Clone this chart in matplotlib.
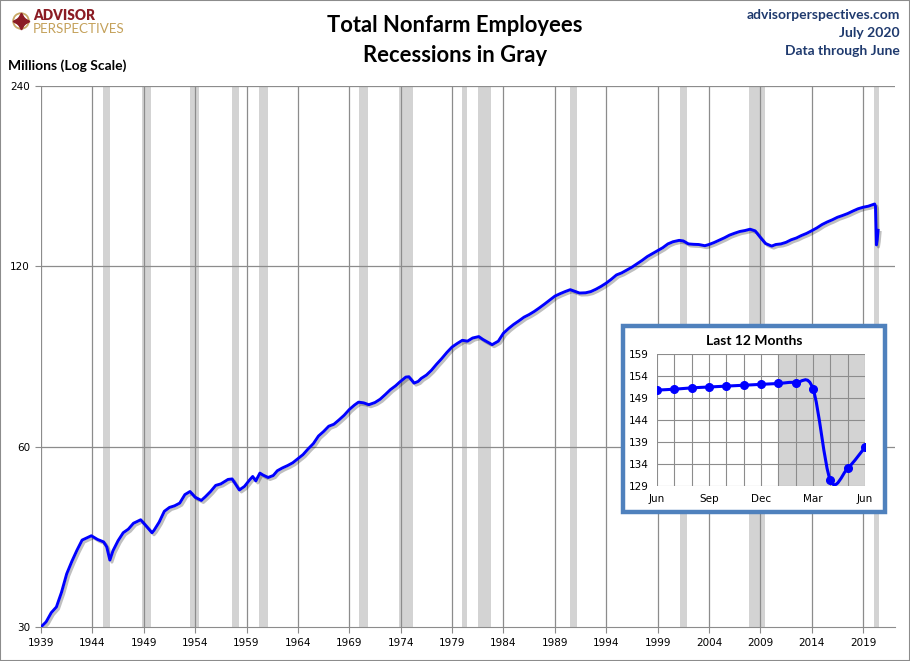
import matplotlib
matplotlib.use("Agg")
import matplotlib.pyplot as plt
import matplotlib.patheffects as pe
from matplotlib.patches import Rectangle, Circle
from matplotlib.path import Path
from matplotlib.patches import PathPatch

# main series: decimal year, millions of employees
years = [
    1939.0, 1939.5, 1940.0, 1940.5, 1941.0, 1941.5, 1942.0, 1942.5, 1943.0, 1943.9,
    1944.5, 1945.1, 1945.4, 1945.7, 1946.0, 1946.5, 1947.0, 1947.5, 1948.0, 1948.7,
    1949.0, 1949.8, 1950.0, 1950.5, 1951.0, 1951.5, 1952.0, 1952.5, 1953.0, 1953.5,
    1954.0, 1954.6, 1955.0, 1955.5, 1956.0, 1956.5, 1957.2, 1957.6, 1958.3, 1958.8,
    1959.3, 1959.6, 1959.9, 1960.3, 1960.6, 1961.1, 1961.6, 1962.0, 1962.5, 1963.0,
    1963.5, 1964.0, 1964.5, 1965.0, 1965.5, 1966.0, 1966.5, 1967.0, 1967.5, 1968.0,
    1968.5, 1969.0, 1969.5, 1969.9, 1970.4, 1970.9, 1971.5, 1972.0, 1972.5, 1973.0,
    1973.5, 1973.9, 1974.5, 1974.8, 1975.3, 1975.7, 1976.0, 1976.5, 1977.0, 1977.5,
    1978.0, 1978.5, 1979.0, 1979.5, 1980.0, 1980.5, 1981.0, 1981.6, 1982.0, 1982.5,
    1982.9, 1983.5, 1984.0, 1984.5, 1985.0, 1985.5, 1986.0, 1986.5, 1987.0, 1987.5,
    1988.0, 1988.5, 1989.0, 1989.5, 1990.0, 1990.5, 1991.0, 1991.4, 1992.0, 1992.5,
    1993.0, 1993.5, 1994.0, 1994.5, 1995.0, 1995.5, 1996.0, 1996.5, 1997.0, 1997.5,
    1998.0, 1998.5, 1999.0, 1999.5, 2000.0, 2000.5, 2001.1, 2001.5, 2002.0, 2002.5,
    2003.0, 2003.6, 2004.0, 2004.5, 2005.0, 2005.5, 2006.0, 2006.5, 2007.0, 2007.5,
    2008.0, 2008.5, 2009.0, 2009.5, 2010.1, 2010.5, 2011.0, 2011.5, 2012.0, 2012.5,
    2013.0, 2013.5, 2014.0, 2014.5, 2015.0, 2015.5, 2016.0, 2016.5, 2017.0, 2017.5,
    2018.0, 2018.5, 2019.0, 2019.5, 2020.0, 2020.12, 2020.2, 2020.29, 2020.37, 2020.45,
]
employees = [
    30.0, 30.6, 31.7, 32.4, 34.3, 36.8, 38.6, 40.3, 41.9, 42.6,
    42.0, 41.6, 40.8, 38.8, 40.2, 41.8, 43.1, 43.7, 44.7, 45.3,
    44.7, 43.1, 43.5, 44.9, 46.8, 47.5, 47.8, 48.3, 49.9, 50.5,
    49.4, 48.8, 49.5, 50.5, 51.7, 52.0, 52.9, 53.0, 50.8, 51.5,
    52.8, 53.5, 52.6, 54.2, 53.8, 53.3, 53.7, 54.7, 55.3, 55.8,
    56.4, 57.3, 58.2, 59.5, 60.7, 62.5, 63.6, 64.9, 65.4, 66.5,
    67.7, 69.2, 70.4, 71.2, 71.0, 70.5, 71.1, 72.0, 73.3, 74.7,
    75.8, 76.9, 78.4, 78.5, 76.6, 77.1, 78.0, 79.0, 80.5, 82.4,
    84.2, 86.2, 88.0, 89.2, 90.3, 90.0, 91.1, 91.6, 90.6, 89.6,
    88.8, 90.0, 92.8, 94.5, 96.0, 97.3, 98.7, 99.7, 100.9, 102.3,
    103.8, 105.4, 107.0, 108.0, 108.9, 109.7, 108.9, 108.3, 108.4, 108.9,
    109.9, 111.1, 112.5, 114.2, 116.1, 117.0, 118.3, 119.6, 121.2, 122.8,
    124.6, 126.0, 127.4, 128.9, 130.8, 131.9, 132.6, 132.3, 130.8, 130.6,
    130.5, 129.9, 130.5, 131.5, 132.7, 133.9, 135.3, 136.3, 137.2, 137.7,
    138.4, 137.5, 134.1, 131.0, 129.7, 130.5, 130.8, 131.6, 132.9, 133.8,
    135.1, 136.2, 137.6, 139.1, 140.9, 142.3, 143.5, 144.9, 145.9, 147.0,
    148.4, 149.7, 150.6, 151.2, 152.2, 152.5, 151.1, 130.3, 133.0, 137.8,
]

recession_start = [1945.08, 1948.83, 1953.5, 1957.58, 1960.25, 1969.92, 1973.83,
                   1980.0, 1981.5, 1990.5, 2001.17, 2007.92, 2020.08]
recession_end = [1945.75, 1949.75, 1954.33, 1958.25, 1961.08, 1970.83, 1975.17,
                 1980.5, 1982.83, 1991.17, 2001.83, 2009.42, 2020.5]

year_ticks = list(range(1939, 2020, 5))
y_ticks = [30, 60, 120, 240]

# inset: last 12 months
months = ["Jun", "Jul", "Aug", "Sep", "Oct", "Nov", "Dec",
          "Jan", "Feb", "Mar", "Apr", "May", "Jun"]
last12 = [150.8, 151.0, 151.3, 151.5, 151.7, 151.9, 152.1,
          152.3, 152.5, 151.1, 130.3, 133.0, 137.8]
inset_recession_from = 7
inset_ticks = list(range(129, 160, 5))

W, H = 910, 661
fig = plt.figure(figsize=(W / 100, H / 100), dpi=100)
fig.patch.set_facecolor("white")

title_font = ["Lato", "DejaVu Sans"]
tick_font = ["DejaVu Sans"]


def fx(px):
    return px / W


def fy(py):
    return 1 - py / H


# ---- main axes
ax = fig.add_axes([fx(41), fy(627), fx(895) - fx(41), fy(86) - fy(627)])
ax.set_yscale("log")
ax.set_xlim(1939, 2022.1)
ax.set_ylim(30, 240)

for s, e in zip(recession_start, recession_end):
    ax.axvspan(s, e, color="#d3d3d3", lw=0, zorder=0)

for yr in year_ticks:
    ax.axvline(yr, color="#8c8c8c", lw=0.9, zorder=1)
for v in y_ticks[1:]:
    ax.axhline(v, color="#8c8c8c", lw=0.9, zorder=1)

ax.plot(years, employees, color="#0000ff", lw=2.1, zorder=3,
        solid_joinstyle="round",
        path_effects=[pe.SimpleLineShadow(offset=(1.5, -1.5), alpha=0.25),
                      pe.Normal()])

ax.set_xticks(year_ticks)
ax.set_xticklabels([str(y) for y in year_ticks], fontsize=7.5, family=tick_font)
ax.set_yticks(y_ticks)
ax.set_yticklabels([str(v) for v in y_ticks], fontsize=7.5, family=tick_font)
ax.yaxis.set_minor_locator(matplotlib.ticker.NullLocator())
ax.tick_params(axis="x", length=4, color="#8c8c8c", pad=4)
ax.tick_params(axis="y", length=4, color="#8c8c8c", pad=4)
for side in ["top", "right", "left"]:
    ax.spines[side].set_visible(False)
ax.spines["bottom"].set_color("#8c8c8c")

# ---- inset box
box = Rectangle((fx(623), fy(512)), fx(885) - fx(623), fy(326) - fy(512),
                transform=fig.transFigure, facecolor="white",
                edgecolor="#4f81bd", lw=3.2, zorder=2)
fig.patches.append(box)
fig.text(fx(754), fy(341), "Last 12 Months", ha="center", va="center",
         fontsize=10, fontweight="bold", family=title_font, zorder=4)

ins = fig.add_axes([fx(657), fy(486), fx(865) - fx(657), fy(354) - fy(486)])
ins.set_zorder(3)
ins.set_xlim(0, len(last12) - 1)
ins.set_ylim(inset_ticks[0], inset_ticks[-1])
ins.axvspan(inset_recession_from, len(last12) - 1, color="#d3d3d3", lw=0, zorder=0)
for i in range(len(last12)):
    ins.axvline(i, color="#8c8c8c", lw=0.8, zorder=1)
for v in inset_ticks:
    ins.axhline(v, color="#8c8c8c", lw=0.8, zorder=1)

# smoothed line (Excel style bezier through points)
xs = list(range(len(last12)))
verts = [(xs[0], last12[0])]
codes = [Path.MOVETO]
n = len(last12)
for i in range(n - 1):
    x0, y0 = xs[i], last12[i]
    x1, y1 = xs[i + 1], last12[i + 1]
    xp, yp = (xs[i - 1], last12[i - 1]) if i > 0 else (x0, y0)
    xn, yn = (xs[i + 2], last12[i + 2]) if i + 2 < n else (x1, y1)
    c1 = (x0 + (x1 - xp) / 6, y0 + (y1 - yp) / 6)
    c2 = (x1 - (xn - x0) / 6, y1 - (yn - y0) / 6)
    verts += [c1, c2, (x1, y1)]
    codes += [Path.CURVE4] * 3
ins.add_patch(PathPatch(Path(verts, codes), facecolor="none",
                        edgecolor="#0000ff", lw=2.2, zorder=3))
ins.plot(xs, last12, "o", color="#0000ff", ms=5.5, zorder=4)

ins.set_xticks([0, 3, 6, 9, 12])
ins.set_xticklabels([months[i] for i in [0, 3, 6, 9, 12]], fontsize=7.5, family=tick_font)
ins.set_yticks(inset_ticks)
ins.set_yticklabels([str(v) for v in inset_ticks], fontsize=7.5, family=tick_font)
ins.tick_params(length=0, pad=6)
for sp in ins.spines.values():
    sp.set_visible(False)

# ---- texts
fig.text(fx(455), fy(25), "Total Nonfarm Employees", ha="center", va="center",
         fontsize=15.8, fontweight="bold", family=title_font)
fig.text(fx(455), fy(55), "Recessions in Gray", ha="center", va="center",
         fontsize=15.8, fontweight="bold", family=title_font)
fig.text(fx(8), fy(66), "Millions (Log Scale)", ha="left", va="center",
         fontsize=10, fontweight="bold", family=title_font)

blue_text = "#1f3a6e"
for yy, txt in [(15, "advisorperspectives.com"), (33, "July 2020"),
                (51, "Data through June")]:
    fig.text(fx(900), fy(yy), txt, ha="right", va="center", fontsize=10,
             fontweight="bold", color=blue_text, family=title_font)

# logo
fig.text(fx(33), fy(20), "ADVISOR", ha="left", va="baseline", fontsize=9.8,
         fontweight="heavy", color="#8b1c24", family=title_font)
fig.text(fx(33), fy(33), "PERSPECTIVES", ha="left", va="baseline", fontsize=9.6,
         fontweight="normal", color="#c4a15a", family=title_font)
logo = fig.add_axes([fx(11), fy(31), fx(31) - fx(11), fy(11) - fy(31)])
logo.set_xlim(-1, 1)
logo.set_ylim(-1, 1)
logo.set_aspect("equal")
logo.axis("off")
logo.add_patch(Circle((0, 0), 0.78, facecolor="none", edgecolor="#c9a866", lw=1.3))
logo.plot([0], [0], marker=(4, 1, 0), ms=12, color="#8b1c24")
logo.plot([0], [0], marker=(4, 1, 45), ms=7, color="#8b1c24")

# outer border
fig.patches.append(Rectangle((0, 0), 1, 1, transform=fig.transFigure,
                             facecolor="none", edgecolor="#8c8c8c", lw=1.5,
                             zorder=5))

fig.savefig("out.png", dpi=100)
